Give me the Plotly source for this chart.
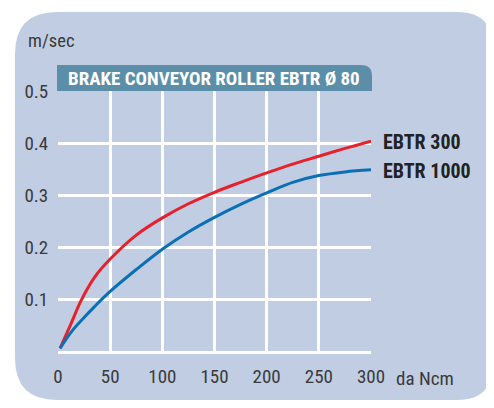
import plotly.graph_objects as go

# ---- data ----
torque_300 = [2, 12, 22, 35, 50, 75, 100, 125, 150, 175, 200, 225, 250, 275, 300]
speed_300 = [0.007, 0.052, 0.098, 0.143, 0.178, 0.224, 0.257, 0.284, 0.306, 0.325, 0.343, 0.36, 0.375, 0.39, 0.404]
torque_1000 = [2, 13, 25, 35, 50, 75, 100, 125, 150, 175, 200, 225, 250, 275, 300]
speed_1000 = [0.007, 0.039, 0.066, 0.087, 0.116, 0.158, 0.197, 0.23, 0.258, 0.283, 0.305, 0.325, 0.338, 0.345, 0.349]
x_ticks = [0, 50, 100, 150, 200, 250, 300]
y_ticks = [0.1, 0.2, 0.3, 0.4, 0.5]
y_labels = ["0.1", "0.2", "0.3", "0.4", "0.5"]
title_text = "BRAKE CONVEYOR ROLLER EBTR Ø 80"
series_names = ["EBTR 300", "EBTR 1000"]

O = 8  # page body margin
W, H = 494 - O, 408 - O
# plot area in screen pixels
SL, SR, ST, SB = 58, 371, 91, 352
L, R, T, B = SL - O, SR - O, ST - O, SB - O
FONT = "Liberation Sans Narrow, Roboto Condensed, Arial Narrow, sans-serif"
TXT = "#3a3a3a"

def px(x):
    return (x - SL) / (SR - SL)

def py(y):
    return (SB - y) / (SB - ST)

# rounded panel (screen pixel corners)
pl, pt, pr, pb = 15, 12, 493, 400
r1, r2 = 42, 36
panel = (
    f"M {px(pl)},{py(pt + r1)} "
    f"Q {px(pl)},{py(pt)} {px(pl + r1)},{py(pt)} "
    f"L {px(pr - r2)},{py(pt)} "
    f"Q {px(pr)},{py(pt)} {px(pr)},{py(pt + r2)} "
    f"L {px(pr)},{py(pb - r2)} "
    f"Q {px(pr)},{py(pb)} {px(pr - r2)},{py(pb)} "
    f"L {px(pl + r1)},{py(pb)} "
    f"Q {px(pl)},{py(pb)} {px(pl)},{py(pb - r1)} Z"
)
bl, bt, br, bb, rb = 57, 65, 372, 91, 11
bar = (
    f"M {px(bl)},{py(bb)} L {px(bl)},{py(bt)} "
    f"L {px(br - rb)},{py(bt)} "
    f"Q {px(br)},{py(bt)} {px(br)},{py(bt + rb)} "
    f"L {px(br)},{py(bb)} Z"
)

fig = go.Figure()
fig.add_trace(go.Scatter(x=torque_300, y=speed_300, mode="lines",
                         line=dict(color="#e8202a", width=3, shape="spline", smoothing=1), name=series_names[0]))
fig.add_trace(go.Scatter(x=torque_1000, y=speed_1000, mode="lines",
                         line=dict(color="#0a70b6", width=3, shape="spline", smoothing=1), name=series_names[1]))

fig.update_layout(
    width=W, height=H,
    margin=dict(l=L, r=W - R, t=T, b=H - B),
    paper_bgcolor="white",
    plot_bgcolor="#cddde6",
    showlegend=False,
    font=dict(family=FONT, color=TXT, size=19),
    shapes=[
        dict(type="path", path=panel, xref="paper", yref="paper", fillcolor="#c1cde2", line=dict(width=0), layer="below"),
        dict(type="path", path=bar, xref="paper", yref="paper", fillcolor="#5b8ea8", line=dict(width=0), layer="below"),
    ],
    annotations=[
        dict(text="<b>" + title_text + "</b>", x=px(66), y=py(78), xref="paper", yref="paper", xanchor="left", yanchor="middle",
             showarrow=False, font=dict(color="white", size=19, family=FONT)),
        dict(text="m/sec", x=px(26), y=py(41), xref="paper", yref="paper", xanchor="left", yanchor="middle",
             showarrow=False, font=dict(size=18.5)),
        dict(text="da Ncm", x=px(394), y=py(378), xref="paper", yref="paper", xanchor="left", yanchor="middle",
             showarrow=False, font=dict(size=19)),
        dict(text="<b>" + series_names[0] + "</b>", x=px(381), y=py(142), xref="paper", yref="paper", xanchor="left", yanchor="middle",
             showarrow=False, font=dict(size=20, color="#222222")),
        dict(text="<b>" + series_names[1] + "</b>", x=px(381), y=py(171), xref="paper", yref="paper", xanchor="left", yanchor="middle",
             showarrow=False, font=dict(size=20, color="#222222")),
    ],
)
fig.update_xaxes(range=[0, 300], tickvals=x_ticks, showgrid=True, gridcolor="white", gridwidth=3,
                 zeroline=False, showline=False, ticks="outside", ticklen=7, tickcolor="rgba(0,0,0,0)", fixedrange=True)
fig.update_yaxes(range=[0, 0.5], tickvals=y_ticks, ticktext=y_labels, showgrid=True, gridcolor="white", gridwidth=3,
                 zeroline=True, zerolinecolor="white", zerolinewidth=3, showline=False,
                 ticks="outside", ticklen=5, tickcolor="rgba(0,0,0,0)", fixedrange=True)
fig.write_html("out.html")
